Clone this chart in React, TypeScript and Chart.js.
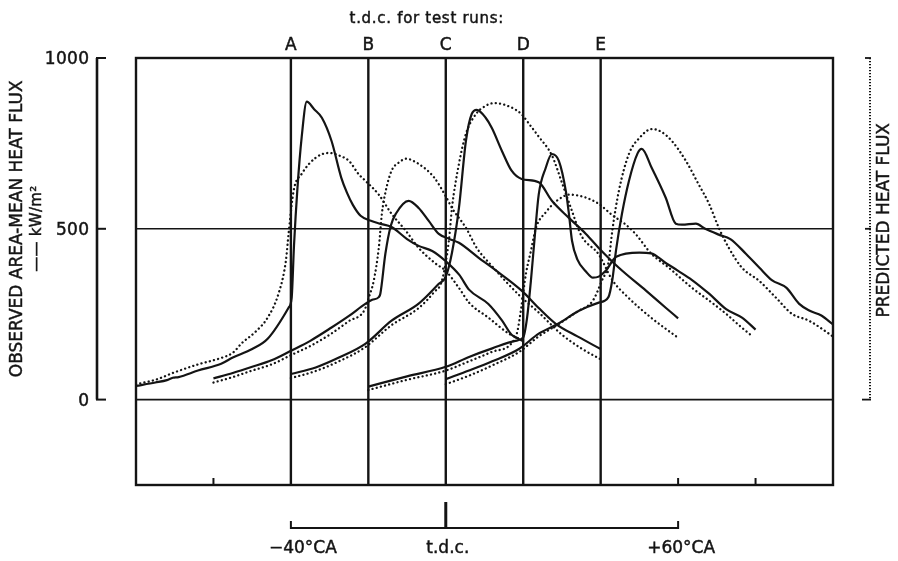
import { useEffect, useRef } from "react";
import { Chart, registerables } from "chart.js";

Chart.register(...registerables);

// ---- crank angle (deg) / heat flux (kW/m²) traces for each test run ----
// Run A (t.d.c. at -40 °CA)
const runAObsDeg = [-80, -75, -72, -70.5, -69, -64, -58, -55, -50, -46, -40.6, -39.8, -39.2, -38.3, -37.2, -35.9, -34, -32, -29.5, -27, -25.5, -24, -22, -19, -17, -14, -10, -7, -3.5, 0, 3.5, 6, 11, 14.5, 17, 20];
const runAObsKw = [40, 50, 57, 64, 66, 85, 105, 123, 148, 178, 269, 298, 450, 620, 770, 872, 850, 825, 757, 650, 605, 570, 538, 522, 515, 505, 470, 450, 435, 405, 365, 322, 280, 232, 190, 172];
const runAPredDeg = [-80, -75, -70, -64, -58, -55, -52.7, -49, -46, -43.2, -41.3, -40.6, -39.3, -37.2, -33.6, -30.2, -27, -25, -22.5, -20.7, -17.3, -14, -10.3, -7, -2.6, 0, 3.4, 6, 11, 16.3, 19, 20];
const runAPredKw = [45, 58, 80, 103, 122, 137, 165, 200, 240, 310, 406, 485, 611, 661, 708, 722, 712, 699, 660, 640, 600, 544, 494, 444, 398, 377, 327, 284, 240, 193, 178, 170];

// Run B (t.d.c. at -20 °CA)
const runBObsDeg = [-60, -55, -50, -45, -40, -35, -29.5, -25, -20.7, -19, -17.3, -16.9, -15.6, -14.2, -12.9, -9.6, -7, -4.4, -1.8, 0.8, 3.4, 8.5, 12, 19.6, 24, 28.4, 34, 40];
const runBObsKw = [62, 78, 96, 115, 143, 172, 211, 245, 281, 292, 300, 310, 427, 509, 544, 582, 561, 523, 485, 471, 459, 415, 386, 319, 268, 222, 185, 148];
const runBPredDeg = [-60, -55, -50, -45, -40, -35, -30, -25, -21, -19.9, -18.6, -17.3, -16.5, -15.5, -14, -12, -10.3, -7, -3, 0, 1.6, 5.2, 8, 12, 19, 24, 30, 35, 40];
const runBPredKw = [50, 66, 85, 103, 130, 157, 190, 230, 262, 298, 348, 444, 544, 611, 670, 695, 705, 690, 650, 595, 561, 503, 444, 390, 305, 255, 190, 150, 118];

// Run C (t.d.c. at 0 °CA)
const runCObsDeg = [-40, -33.6, -27.6, -20.7, -14, -7, -1.8, 0, 1.6, 3.4, 5.2, 6.7, 8, 10.3, 11.9, 14.5, 17, 19.6, 24, 27.4, 31.8, 36.2, 39.5, 44.7, 51.7, 56.8, 60];
const runCObsKw = [75, 94, 123, 164, 231, 281, 339, 360, 430, 561, 757, 836, 848, 825, 795, 728, 670, 646, 636, 582, 532, 485, 444, 386, 319, 269, 238];
const runCPredDeg = [-40, -34, -28, -21, -14, -7, -3, -1, 0.8, 1.6, 3.4, 5.2, 7.8, 10.3, 12.5, 17, 19.5, 22, 24, 27.4, 30, 32.5, 35, 39.5, 43, 47, 53, 60];
const runCPredKw = [63, 82, 110, 152, 218, 268, 315, 348, 465, 561, 690, 778, 836, 860, 868, 855, 836, 800, 770, 715, 635, 555, 480, 425, 350, 300, 240, 181];

// Run D (t.d.c. at +20 °CA)
const runDObsDeg = [-20, -10, 0, 6, 12, 18, 20, 21, 22, 23, 24, 25.8, 27.4, 29.2, 31, 31.8, 32.6, 34, 36.2, 38, 39.5, 41.3, 44, 50, 53, 56.8, 60, 63.6, 68, 72.4, 76.5, 80];
const runDObsKw = [38, 68, 96, 125, 150, 172, 182, 240, 350, 480, 600, 678, 719, 699, 611, 544, 465, 410, 375, 357, 360, 377, 418, 430, 428, 400, 377, 350, 310, 265, 240, 205];
const runDPredDeg = [-20, -10, 0, 6, 12, 17, 18.5, 19.5, 20.7, 22, 23.3, 25.8, 29, 32, 36, 39.5, 43, 46.5, 49, 53, 57.6, 63.6, 68, 72.4, 76, 79];
const runDPredKw = [28, 58, 85, 112, 140, 165, 200, 270, 368, 436, 503, 548, 585, 600, 592, 573, 540, 512, 485, 428, 386, 327, 290, 251, 215, 187];

// Run E (t.d.c. at +40 °CA)
const runEObsDeg = [0, 6, 12, 19, 24, 29, 34.4, 39.5, 42, 43, 44, 45.5, 47.3, 49.5, 50.6, 53.2, 56.8, 59.4, 61, 64.6, 67, 70.5, 73.5, 77.5, 81, 84.2, 88, 91.2, 94, 97, 100];
const runEObsKw = [60, 85, 112, 149, 193, 222, 260, 284, 300, 350, 440, 544, 640, 720, 734, 678, 591, 515, 512, 515, 500, 483, 470, 427, 386, 350, 327, 281, 260, 246, 220];
const runEPredDeg = [0, 6, 12, 19, 24, 29, 34, 38, 40.3, 42, 43, 44.7, 47.3, 50, 53.2, 55.5, 58.4, 62, 65.4, 68, 70.5, 73.1, 76.5, 80.9, 85.3, 89.4, 93.8, 100];
const runEPredKw = [45, 70, 100, 140, 185, 220, 258, 290, 348, 400, 494, 611, 719, 766, 792, 785, 757, 699, 628, 573, 503, 444, 386, 348, 298, 251, 231, 185];

// ---- axes, marks and labels ----
const angleMin = -80;
const angleMax = 100;
const fluxMin = -250;
const fluxMax = 1000;
const fluxTicks = [0, 500, 1000];
const fluxTickLabels = ["0", "500", "1000"];
const fluxGridLines = [0, 500];
const tdcAngles = [-40, -20, 0, 20, 40];
const tdcRunLabels = ["A", "B", "C", "D", "E"];
const frameTickAngles = [-60, 60, 80];
const scaleBarAngles = [-40, 0, 60];
const scaleBarLabels = ["\u221240\u00b0CA", "t.d.c.", "+60\u00b0CA"];
const topTitle = "t.d.c. for test runs:";
const leftTitle = "OBSERVED AREA-MEAN HEAT FLUX";
const leftUnit = "\u2014\u2014 kW/m\u00b2";
const rightTitle = "PREDICTED HEAT FLUX";

const INK = "#141414";
const FONT_FAMILY = '"DejaVu Sans", "Liberation Sans", sans-serif';

const pairs = (xs: number[], ys: number[]) => xs.map((x, i) => ({ x, y: ys[i] }));

const observedRuns = [
  pairs(runAObsDeg, runAObsKw),
  pairs(runBObsDeg, runBObsKw),
  pairs(runCObsDeg, runCObsKw),
  pairs(runDObsDeg, runDObsKw),
  pairs(runEObsDeg, runEObsKw),
];
const predictedRuns = [
  pairs(runAPredDeg, runAPredKw),
  pairs(runBPredDeg, runBPredKw),
  pairs(runCPredDeg, runCPredKw),
  pairs(runDPredDeg, runDPredKw),
  pairs(runEPredDeg, runEPredKw),
];

function seg(ctx: CanvasRenderingContext2D, x1: number, y1: number, x2: number, y2: number) {
  ctx.beginPath();
  ctx.moveTo(x1, y1);
  ctx.lineTo(x2, y2);
  ctx.stroke();
}

// lettering with a slight stroke so it reads like pen lettering
function letter(ctx: CanvasRenderingContext2D, txt: string, x: number, y: number, size: number, spacing: number) {
  (ctx as any).letterSpacing = `${spacing}px`;
  ctx.font = `${size}px ${FONT_FAMILY}`;
  const shift = spacing && ctx.textAlign === "center" ? spacing / 2 : ctx.textAlign === "right" ? spacing : 0;
  ctx.fillText(txt, x + shift, y);
  ctx.lineWidth = 0.45;
  ctx.strokeText(txt, x + shift, y);
}

const framePlugin = {
  id: "heatFluxFrame",
  beforeDraw(chart: any) {
    const { ctx, width, height } = chart;
    ctx.save();
    ctx.fillStyle = "#fff";
    ctx.fillRect(0, 0, width, height);
    ctx.restore();
  },
  beforeDatasetsDraw(chart: any) {
    const { ctx, chartArea: a, scales } = chart;
    const xs = scales.x;
    const ys = scales.y;
    ctx.save();
    ctx.strokeStyle = INK;
    ctx.lineCap = "butt";

    // horizontal reference lines at 0 and 500
    ctx.lineWidth = 1.6;
    for (const v of fluxGridLines) {
      const py = ys.getPixelForValue(v);
      seg(ctx, a.left, py, a.right, py);
    }

    // t.d.c. lines of the test runs
    ctx.lineWidth = 2.4;
    for (const d of tdcAngles) {
      const px = xs.getPixelForValue(d);
      seg(ctx, px, a.top, px, a.bottom);
    }

    // frame
    ctx.lineWidth = 2.4;
    ctx.strokeRect(a.left, a.top, a.right - a.left, a.bottom - a.top);

    // short ticks on the bottom edge
    ctx.lineWidth = 2;
    for (const d of frameTickAngles) {
      const px = xs.getPixelForValue(d);
      seg(ctx, px, a.bottom, px, a.bottom - 7);
    }
    ctx.restore();
  },
  afterDraw(chart: any) {
    const { ctx, chartArea: a, scales } = chart;
    const xs = scales.x;
    const ys = scales.y;
    ctx.save();
    ctx.strokeStyle = INK;
    ctx.fillStyle = INK;

    // top caption and run letters
    ctx.textAlign = "center";
    ctx.textBaseline = "middle";
    letter(ctx, topTitle, xs.getPixelForValue(-5), 19, 15, 0.7);
    tdcAngles.forEach((d, i) => {
      letter(ctx, tdcRunLabels[i], xs.getPixelForValue(d), 46, 17, 0);
    });

    // observed-flux axis on the left
    const axisX = a.left - 39;
    const yTop = ys.getPixelForValue(fluxMax);
    const yZero = ys.getPixelForValue(0);
    ctx.lineWidth = 2.6;
    seg(ctx, axisX, yTop, axisX, yZero);
    ctx.lineWidth = 2;
    for (const v of fluxTicks) {
      const py = ys.getPixelForValue(v);
      seg(ctx, axisX - 1, py, axisX + 9, py);
    }
    ctx.textAlign = "right";
    ctx.textBaseline = "middle";
    fluxTicks.forEach((v, i) => {
      letter(ctx, fluxTickLabels[i], axisX - 8, ys.getPixelForValue(v) + 2, 17, 0.3);
    });

    // predicted-flux axis on the right (dotted)
    const rAxisX = a.right + 37;
    ctx.lineWidth = 2;
    ctx.setLineDash([1.2, 1.8]);
    seg(ctx, rAxisX, yTop, rAxisX, yZero);
    ctx.setLineDash([]);
    ctx.lineWidth = 1.8;
    for (const v of fluxTicks) {
      const py = ys.getPixelForValue(v);
      seg(ctx, rAxisX + 1, py, rAxisX - (v === 0 ? 8 : 5), py);
    }

    // rotated axis titles
    const vText = (txt: string, cx: number, cy: number, size: number, spacing: number) => {
      ctx.save();
      ctx.translate(cx, cy);
      ctx.rotate(-Math.PI / 2);
      ctx.textAlign = "center";
      ctx.textBaseline = "middle";
      letter(ctx, txt, 0, 0, size, spacing);
      ctx.restore();
    };
    vText(leftTitle, 18, ys.getPixelForValue(500), 17, 0);
    vText(leftUnit, 37, ys.getPixelForValue(500), 15, 0.3);
    vText(rightTitle, 885, ys.getPixelForValue(525), 17, 0);

    // crank-angle scale bar below the frame
    const barY = a.bottom + 43;
    const bx0 = xs.getPixelForValue(scaleBarAngles[0]);
    const bx1 = xs.getPixelForValue(scaleBarAngles[scaleBarAngles.length - 1]);
    const bTdc = xs.getPixelForValue(0);
    ctx.lineWidth = 2;
    seg(ctx, bx0, barY, bx1, barY);
    seg(ctx, bx0, barY + 1, bx0, barY - 7);
    seg(ctx, bx1, barY + 1, bx1, barY - 7);
    ctx.lineWidth = 3;
    seg(ctx, bTdc, barY + 1, bTdc, barY - 26);

    ctx.textAlign = "center";
    ctx.textBaseline = "middle";
    const labelOffsets = [12, 2, 3];
    scaleBarAngles.forEach((d, i) => {
      letter(ctx, scaleBarLabels[i], xs.getPixelForValue(d) + labelOffsets[i], barY + 21, 17, 0);
    });

    (ctx as any).letterSpacing = "0px";
    ctx.restore();
  },
};

export default function App() {
  const canvasRef = useRef<HTMLCanvasElement | null>(null);

  useEffect(() => {
    const canvas = canvasRef.current;
    if (!canvas) return;

    const datasets: any[] = [];
    predictedRuns.forEach((data, i) => {
      datasets.push({
        label: `Predicted ${tdcRunLabels[i]}`,
        data,
        borderColor: INK,
        borderWidth: 2.3,
        borderDash: [0.1, 4.2],
        borderCapStyle: "round",
        pointRadius: 0,
        fill: false,
        cubicInterpolationMode: "monotone",
      });
    });
    observedRuns.forEach((data, i) => {
      datasets.push({
        label: `Observed ${tdcRunLabels[i]}`,
        data,
        borderColor: INK,
        borderWidth: 2.2,
        pointRadius: 0,
        fill: false,
        borderJoinStyle: "round",
        cubicInterpolationMode: "monotone",
      });
    });

    const chart = new Chart(canvas, {
      type: "line",
      data: { datasets },
      options: {
        animation: false,
        responsive: false,
        devicePixelRatio: 1,
        layout: { padding: { left: 136, right: 65, top: 58, bottom: 76 } },
        plugins: {
          legend: { display: false },
          tooltip: { enabled: false },
        },
        scales: {
          x: { type: "linear", min: angleMin, max: angleMax, display: false },
          y: { type: "linear", min: fluxMin, max: fluxMax, display: false },
        },
      },
      plugins: [framePlugin],
    });

    return () => chart.destroy();
  }, []);

  return (
    <div style={{ position: "absolute", left: 0, top: 0, width: 898, height: 561, background: "#fff" }}>
      <canvas ref={canvasRef} width={898} height={561} style={{ display: "block" }} />
    </div>
  );
}
